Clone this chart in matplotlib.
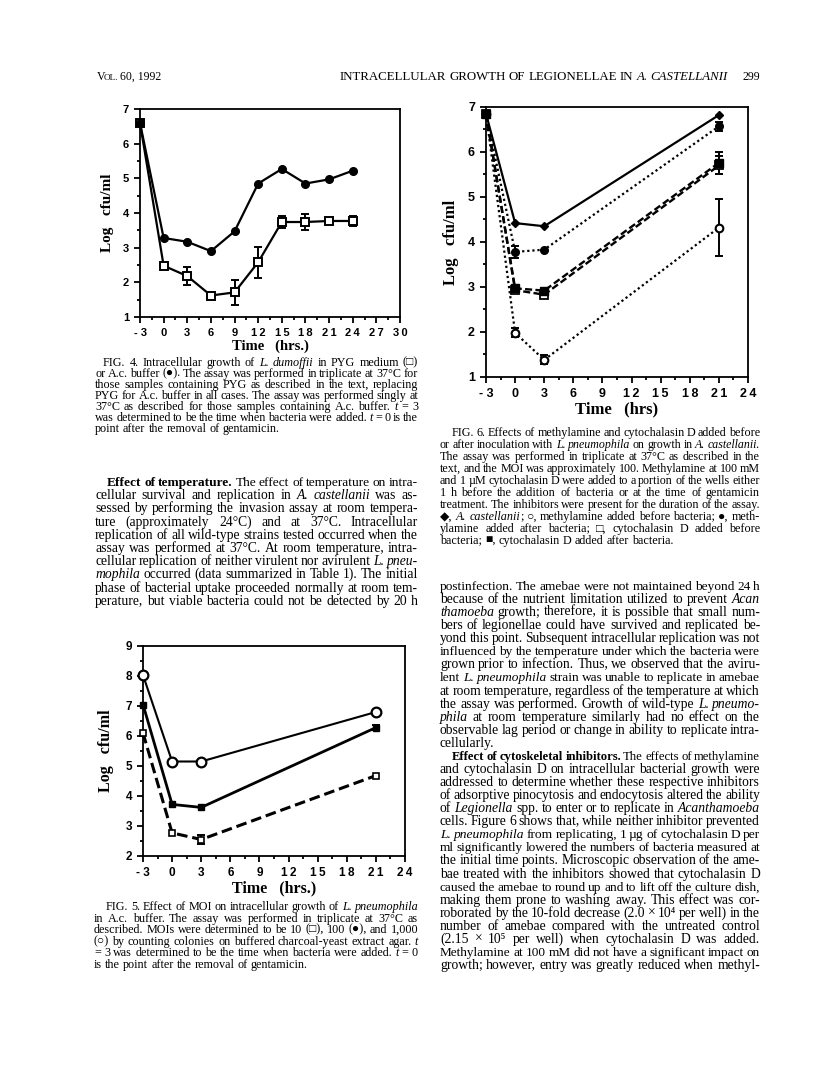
import re
import math
import numpy as np
import matplotlib
matplotlib.use('Agg')
import matplotlib.pyplot as plt
from matplotlib.ticker import MultipleLocator

# --- data ---
# Fig. 4: L. dumoffii, PYG medium (open squares) vs A.c. buffer (filled circles)
t4 = [-3, 0, 3, 6, 9, 12, 15, 18, 21, 24]
acb4 = [6.6, 3.28, 3.17, 2.9, 3.47, 4.85, 5.27, 4.85, 4.97, 5.22]
pyg4 = [6.6, 2.48, 2.18, 1.62, 1.71, 2.58, 3.74, 3.74, 3.77, 3.77]
pyg4_err = [0, 0.05, 0.26, 0.05, 0.36, 0.45, 0.17, 0.22, 0.08, 0.15]

# Fig. 5: MOI 10 / 100 / 1000
t5 = [-3, 0, 3, 21]
moi10 = [6.1, 2.77, 2.55, 4.68]
moi10_err = [0, 0.05, 0.15, 0.03]
moi100 = [7.05, 3.72, 3.62, 6.28]
moi100_err = [0, 0.05, 0.05, 0.08]
moi1000 = [8.03, 5.15, 5.15, 6.8]

# Fig. 6: methylamine / cytochalasin D
t6 = [-3, 0, 3, 21]
castellanii = [6.85, 4.42, 4.35, 6.82]
meth_before = [6.85, 1.98, 1.38, 4.32]
meth_before_err = [0, 0.1, 0.1, 0.63]
meth_after = [6.85, 3.78, 3.83, 6.57]
meth_after_err = [0, 0.13, 0.05, 0.1]
cyto_before = [6.85, 2.93, 2.83, 5.7]
cyto_before_err = [0, 0.05, 0.08, 0.2]
cyto_after = [6.85, 2.97, 2.92, 5.76]
cyto_after_err = [0, 0.05, 0.05, 0.25]

# --- page text ('>' indent, '|' not justified, _italic_, *bold*) ---
header_right = 'INTRACELLULAR GROWTH OF LEGIONELLAE IN _A. CASTELLANII_'
page_no = '299'

cap4 = [
    '>FIG. 4. Intracellular growth of _L. dumoffii_ in PYG medium (□)',
    'or A.c. buffer (●). The assay was performed in triplicate at 37°C for',
    'those samples containing PYG as described in the text, replacing',
    'PYG for A.c. buffer in all cases. The assay was performed singly at',
    '37°C as described for those samples containing A.c. buffer. _t_ = 3',
    'was determined to be the time when bacteria were added. _t_ = 0 is the',
    'point after the removal of gentamicin.|',
]
body_left = [
    '>*Effect of temperature.* The effect of temperature on intra-',
    'cellular survival and replication in _A. castellanii_ was as-',
    'sessed by performing the invasion assay at room tempera-',
    'ture (approximately 24°C) and at 37°C. Intracellular',
    'replication of all wild-type strains tested occurred when the',
    'assay was performed at 37°C. At room temperature, intra-',
    'cellular replication of neither virulent nor avirulent _L. pneu-_',
    '_mophila_ occurred (data summarized in Table 1). The initial',
    'phase of bacterial uptake proceeded normally at room tem-',
    'perature, but viable bacteria could not be detected by 20 h',
]
cap5 = [
    '>FIG. 5. Effect of MOI on intracellular growth of _L. pneumophila_',
    'in A.c. buffer. The assay was performed in triplicate at 37°C as',
    'described. MOIs were determined to be 10 (□), 100 (●), and 1,000',
    '(○) by counting colonies on buffered charcoal-yeast extract agar. _t_',
    '= 3 was determined to be the time when bacteria were added. _t_ = 0',
    'is the point after the removal of gentamicin.|',
]
cap6 = [
    '>FIG. 6. Effects of methylamine and cytochalasin D added before',
    'or after inoculation with _L. pneumophila_ on growth in _A. castellanii._',
    'The assay was performed in triplicate at 37°C as described in the',
    'text, and the MOI was approximately 100. Methylamine at 100 mM',
    'and 1 µM cytochalasin D were added to a portion of the wells either',
    '1 h before the addition of bacteria or at the time of gentamicin',
    'treatment. The inhibitors were present for the duration of the assay.',
    '◆, _A. castellanii_; ○, methylamine added before bacteria; ●, meth-',
    'ylamine added after bacteria; □, cytochalasin D added before',
    'bacteria; ■, cytochalasin D added after bacteria.|',
]
body_right = [
    'postinfection. The amebae were not maintained beyond 24 h',
    'because of the nutrient limitation utilized to prevent _Acan_',
    '_thamoeba_ growth; therefore, it is possible that small num-',
    'bers of legionellae could have survived and replicated be-',
    'yond this point. Subsequent intracellular replication was not',
    'influenced by the temperature under which the bacteria were',
    'grown prior to infection. Thus, we observed that the aviru-',
    'lent _L. pneumophila_ strain was unable to replicate in amebae',
    'at room temperature, regardless of the temperature at which',
    'the assay was performed. Growth of wild-type _L. pneumo-_',
    '_phila_ at room temperature similarly had no effect on the',
    'observable lag period or change in ability to replicate intra-',
    'cellularly.|',
    '>*Effect of cytoskeletal inhibitors.* The effects of methylamine',
    'and cytochalasin D on intracellular bacterial growth were',
    'addressed to determine whether these respective inhibitors',
    'of adsorptive pinocytosis and endocytosis altered the ability',
    'of _Legionella_ spp. to enter or to replicate in _Acanthamoeba_',
    'cells. Figure 6 shows that, while neither inhibitor prevented',
    '_L. pneumophila_ from replicating, 1 µg of cytochalasin D per',
    'ml significantly lowered the numbers of bacteria measured at',
    'the initial time points. Microscopic observation of the ame-',
    'bae treated with the inhibitors showed that cytochalasin D',
    'caused the amebae to round up and to lift off the culture dish,',
    'making them prone to washing away. This effect was cor-',
    'roborated by the 10-fold decrease (2.0 × 10⁴ per well) in the',
    'number of amebae compared with the untreated control',
    '(2.15 × 10⁵ per well) when cytochalasin D was added.',
    'Methylamine at 100 mM did not have a significant impact on',
    'growth; however, entry was greatly reduced when methyl-',
]

SERIF = ['Liberation Serif', 'DejaVu Serif', 'DejaVu Sans']
SANS = ['Liberation Sans', 'DejaVu Sans']
W, H = 816, 1078
MIN_GAP = 0.2   # tightest word space, in em

fig = plt.figure(figsize=(W / 100, H / 100), dpi=100)
fig.patch.set_facecolor('white')
renderer = fig.canvas.get_renderer()


def parse(line):
    words = []
    it = bd = False
    for tok in line.split(' '):
        parts = []
        for p in re.split(r'([_*])', tok):
            if p == '_':
                it = not it
            elif p == '*':
                bd = not bd
            elif p:
                parts.append((p, it, bd))
        words.append(parts)
    return words


def new_text(p, it, bd, size):
    return fig.text(0, 0, p, fontsize=size, family=SERIF, va='baseline',
                    style='italic' if it else 'normal',
                    weight='bold' if bd else 'normal')


def line_fit(line, width):
    # font size at which a justified line just fills its width
    words = parse(line)
    nat = 0
    for parts in words:
        for p, it, bd in parts:
            t = new_text(p, it, bd, 10)
            nat += t.get_window_extent(renderer).width
            t.remove()
    return width / (nat / 10 + (len(words) - 1) * MIN_GAP * 100 / 72)


def block_size(blocks, pct=30):
    fits = []
    for lines, width in blocks:
        for line in lines:
            if not line.endswith('|'):
                w = width - (12 if line.startswith('>') else 0)
                fits.append(line_fit(line.lstrip('>'), w))
    return float(np.percentile(fits, pct))


def nudge(t):
    # Agg rounds each word's bitmap by its own descent; keep baselines level
    _, _, d = renderer.get_text_width_height_descent(
        t.get_text(), t.get_fontproperties(), ismath=False)
    return round(d) - math.floor(d + 1e-6)


def put_line(line, x0, x1, y, size, justify=True):
    if justify:
        size = min(size, line_fit(line, x1 - x0))
    words = []
    for parts in parse(line):
        row = []
        for p, it, bd in parts:
            t = new_text(p, it, bd, size)
            row.append((t, t.get_window_extent(renderer).width))
        words.append(row)
    total = sum(w for row in words for _, w in row)
    gap = size * 0.25 * 100 / 72
    if justify and len(words) > 1:
        gap = (x1 - x0 - total) / (len(words) - 1)
    x = x0
    for row in words:
        for t, w in row:
            t.set_position((x / W, 1 - (y - nudge(t)) / H))
            x += w
        x += gap


def put_block(lines, x0, x1, y0, step, size, indent=12):
    for i, line in enumerate(lines):
        xs = x0
        if line.startswith('>'):
            line = line[1:]
            xs = x0 + indent
        just = not line.endswith('|')
        put_line(line.rstrip('|'), xs, x1, round(y0 + i * step), size, just)


def spaced(v):
    s = '- 3' if v == -3 else str(int(v))
    return '\u2009'.join(s) if v > 9 else s


def make_axes(box, xlim, ylim, tsize):
    l, t, r, b = box
    ax = fig.add_axes([l / W, 1 - b / H, (r - l) / W, (b - t) / H])
    ax.set_xlim(*xlim)
    ax.set_ylim(*ylim)
    xt = np.arange(xlim[0], xlim[1] + 1, 3)
    ax.set_xticks(xt)
    ax.set_xticklabels([spaced(v) for v in xt])
    ax.set_yticks(np.arange(ylim[0], ylim[1] + 1))
    ax.xaxis.set_minor_locator(MultipleLocator(1.5))
    ax.yaxis.set_minor_locator(MultipleLocator(0.5))
    ax.tick_params(which='both', direction='out', width=1.3, color='k')
    ax.tick_params(which='major', length=4, pad=4, labelsize=tsize)
    ax.tick_params(which='minor', length=2.5)
    for lab in ax.get_xticklabels() + ax.get_yticklabels():
        lab.set_family(SANS)
        lab.set_weight('bold')
    for s in ax.spines.values():
        s.set_linewidth(1.3)
    ax.set_facecolor('none')
    return ax


def err(ax, x, y, e):
    x, y, e = np.array(x), np.array(y), np.array(e)
    m = e > 0.06
    ax.errorbar(x[m], y[m], yerr=e[m], fmt='none', ecolor='k', elinewidth=1.4,
                capsize=3, capthick=1.4, clip_on=False, zorder=2)


body_size = block_size([(body_left, 323), (body_right, 320)])
cap_size = block_size([(cap4, 323), (cap5, 323), (cap6, 320)])

# ---------------- header ----------------
fig.text(97 / W, 1 - 80 / H, 'V', fontsize=8.5, family=SERIF, va='baseline')
fig.text(103.5 / W, 1 - 80 / H, 'OL.', fontsize=6.6, family=SERIF, va='baseline')
fig.text(120 / W, 1 - 80 / H, '60, 1992', fontsize=8.5, family=SERIF, va='baseline')
put_line(header_right, 340, 728, 80, 20)
fig.text(760 / W, 1 - 80 / H, page_no, fontsize=8.5, family=SERIF, va='baseline', ha='right')

# ---------------- Fig. 4 ----------------
ax4 = make_axes((140, 109, 400, 317), (-3, 30), (1, 7), 8)
ax4.plot(t4, pyg4, color='k', lw=1.6, marker='s', ms=6, mfc='white', mec='k',
         mew=1.4, clip_on=False, zorder=3)
err(ax4, t4, pyg4, pyg4_err)
ax4.plot(t4, acb4, color='k', lw=1.6, marker='o', ms=5.5, clip_on=False, zorder=4)
ax4.set_xlabel('Time   (hrs.)', family=SERIF, weight='bold', fontsize=10.5, labelpad=1)
ax4.set_ylabel('Log   cfu/ml', family=SERIF, weight='bold', fontsize=11, labelpad=6)

put_block(cap4, 95, 418, 366, 11.0, cap_size, indent=8)
put_block(body_left, 95, 418, 486, 13.2, body_size)

# ---------------- Fig. 5 ----------------
ax5 = make_axes((143, 646, 405, 856), (-3, 24), (2, 9), 8.5)
ax5.plot(t5, moi10, color='k', lw=2.2, ls=(0, (3.5, 1.6)), marker='s', ms=4.5,
         mfc='white', mec='k', mew=1.2, clip_on=False, zorder=3)
err(ax5, t5, moi10, moi10_err)
ax5.plot(t5, moi100, color='k', lw=2.0, marker='s', ms=4, clip_on=False, zorder=3)
err(ax5, t5, moi100, moi100_err)
ax5.plot(t5, moi1000, color='k', lw=1.5, marker='o', ms=7, mfc='white', mec='k',
         mew=1.6, clip_on=False, zorder=4)
ax5.set_xlabel('Time   (hrs.)', family=SERIF, weight='bold', fontsize=11.5, labelpad=1)
ax5.set_ylabel('Log   cfu/ml', family=SERIF, weight='bold', fontsize=11.5, labelpad=8)

put_block(cap5, 94, 418, 910, 11.6, cap_size)

# ---------------- Fig. 6 ----------------
ax6 = make_axes((486, 107, 748, 377), (-3, 24), (1, 7), 9)
dots = (0, (1, 1.3))
dash = (0, (3, 1.4))
ax6.plot(t6, cyto_before, color='k', lw=1.7, ls=dash, marker='s', ms=5.5,
         mfc='white', mec='k', mew=1.3, clip_on=False, zorder=3)
err(ax6, t6, cyto_before, cyto_before_err)
ax6.plot(t6, cyto_after, color='k', lw=1.7, ls=dash, marker='s', ms=5.5,
         clip_on=False, zorder=3)
err(ax6, t6, cyto_after, cyto_after_err)
ax6.plot(t6, meth_before, color='k', lw=1.6, ls=dots, marker='o', ms=5.5,
         mfc='white', mec='k', mew=1.5, clip_on=False, zorder=3)
err(ax6, t6, meth_before, meth_before_err)
ax6.plot(t6, meth_after, color='k', lw=1.6, ls=dots, marker='o', ms=5.5,
         clip_on=False, zorder=3)
err(ax6, t6, meth_after, meth_after_err)
ax6.plot(t6, castellanii, color='k', lw=1.6, marker='D', ms=4.5,
         clip_on=False, zorder=4)
ax6.set_xlabel('Time   (hrs)', family=SERIF, weight='bold', fontsize=12, labelpad=1)
ax6.set_ylabel('Log   cfu/ml', family=SERIF, weight='bold', fontsize=12, labelpad=6)

put_block(cap6, 440, 760, 436, 12.0, cap_size)
put_block(body_right, 440, 760, 590, 13.07, body_size)

fig.savefig('out.png', dpi=100, facecolor='white')
